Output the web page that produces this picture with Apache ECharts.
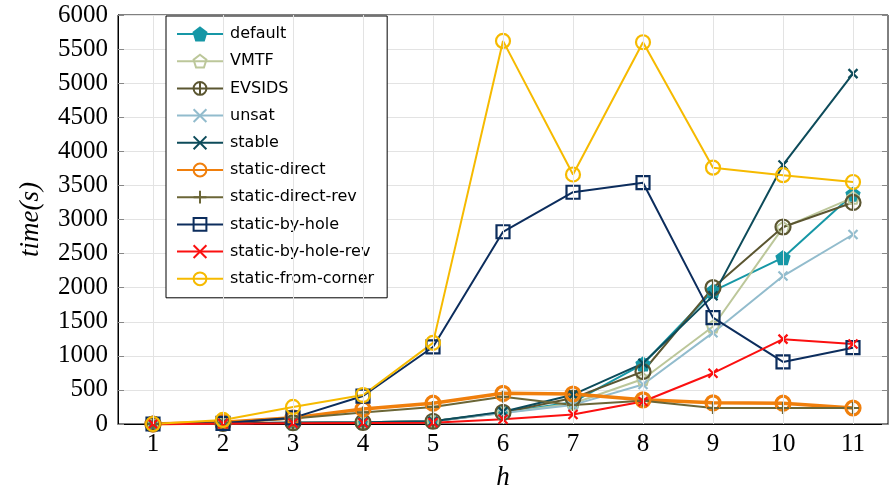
<!DOCTYPE html>
<html>
<head>
<meta charset="utf-8">
<script src="https://cdn.jsdelivr.net/npm/echarts@6/dist/echarts.min.js"></script>
<style>html,body{margin:0;padding:0;background:#fff;}#c{width:889px;height:496px;}</style>
</head>
<body>
<div id="c"></div>
<script>
const hValues = [1, 2, 3, 4, 5, 6, 7, 8, 9, 10, 11];
const yTicks = [0, 500, 1000, 1500, 2000, 2500, 3000, 3500, 4000, 4500, 5000, 5500, 6000];

const seriesNames = ['default', 'VMTF', 'EVSIDS', 'unsat', 'stable', 'static-direct', 'static-direct-rev', 'static-by-hole', 'static-by-hole-rev', 'static-from-corner'];

const defaultTimes          = [0, 10, 20, 25, 40, 170, 320, 880, 1950, 2440, 3370];
const vmtfTimes             = [0, 10, 20, 25, 40, 160, 300, 660, 1430, 2880, 3320];
const evsidsTimes           = [0, 10, 20, 25, 40, 170, 380, 770, 2000, 2890, 3250];
const unsatTimes            = [0, 10, 20, 25, 40, 160, 280, 580, 1340, 2170, 2780];
const stableTimes           = [0, 10, 20, 25, 40, 180, 430, 890, 1880, 3800, 5140];
const staticDirectTimes     = [0, 25, 90, 220, 305, 450, 440, 355, 310, 305, 235];
const staticDirectRevTimes  = [0, 20, 80, 170, 250, 400, 280, 340, 235, 235, 235];
const staticByHoleTimes     = [0, 10, 90, 410, 1130, 2820, 3400, 3540, 1560, 910, 1120];
const staticByHoleRevTimes  = [0, 5, 10, 15, 20, 70, 140, 330, 745, 1245, 1175];
const staticFromCornerTimes = [0, 60, 250, 425, 1190, 5620, 3660, 5600, 3760, 3650, 3550];

const PENT = 'path://M5,0L9.755,3.455L7.939,9.045L2.061,9.045L0.245,3.455Z';
const CROSS = 'path://M0,0L10,10M10,0L0,10';
const PLUS = 'path://M5,0L5,10M0,5L10,5';
const OPLUS = 'path://M0,5A5,5 0 1,1 10,5A5,5 0 1,1 0,5ZM5,0L5,10';
const SQUARE = 'path://M0,0L10,0L10,10L0,10Z';

function mk(name, data, color, symbol, size, opts) {
  opts = opts || {};
  return {
    name: name,
    type: 'line',
    data: data.map((v, i) => [hValues[i], v]),
    symbol: symbol,
    symbolSize: size,
    showSymbol: true,
    animation: false,
    lineStyle: { color: color, width: opts.lw || 2 },
    itemStyle: {
      color: opts.fill ? color : 'rgba(255,255,255,0)',
      borderColor: color,
      borderWidth: opts.bw || 2
    },
    emphasis: { disabled: true },
    z: 3
  };
}

const series = [
  {
    name: '__grid', type: 'line', data: [], silent: true, z: 1, animation: false,
    markLine: {
      silent: true, symbol: 'none', label: { show: false }, animation: false,
      lineStyle: { color: '#e3e3e3', width: 1, type: 'solid' },
      data: hValues.map(v => ({ xAxis: v }))
    }
  },
  mk('default', defaultTimes, '#1697a6', PENT, 13, { fill: true }),
  mk('VMTF', vmtfTimes, '#bcc79a', PENT, 12, {}),
  mk('EVSIDS', evsidsTimes, '#5b5631', OPLUS, 15, { bw: 2.2 }),
  mk('unsat', unsatTimes, '#92bccd', CROSS, 9, { bw: 2.2 }),
  mk('stable', stableTimes, '#0d4b5a', CROSS, 9, { bw: 2.2 }),
  mk('static-direct', staticDirectTimes, '#f07f0c', 'circle', 14, { lw: 3.5, bw: 3.2 }),
  mk('static-direct-rev', staticDirectRevTimes, '#6b6637', PLUS, 12, { bw: 2.2 }),
  mk('static-by-hole', staticByHoleTimes, '#0c2d5d', SQUARE, 13, { bw: 2.2 }),
  mk('static-by-hole-rev', staticByHoleRevTimes, '#fb1010', CROSS, 9, { bw: 2.2 }),
  mk('static-from-corner', staticFromCornerTimes, '#f6ba00', 'circle', 14, { bw: 2.2 })
];

const serif = '"Liberation Serif", "DejaVu Serif", serif';

const option = {
  animation: false,
  backgroundColor: '#fff',
  grid: { left: 118, right: 1, top: 15, bottom: 72, show: true, borderColor: '#000', borderWidth: 1, backgroundColor: 'transparent' },
  legend: {
    data: seriesNames,
    orient: 'vertical',
    left: 166, top: 16,
    backgroundColor: '#fff',
    borderColor: '#000', borderWidth: 1,
    padding: [10, 13, 11, 10],
    itemWidth: 46, itemHeight: 16, itemGap: 11.2,
    textStyle: { fontFamily: '"DejaVu Sans", sans-serif', fontSize: 16, lineHeight: 16, color: '#000', padding: [0, 0, 0, 2] },
    selectedMode: false
  },
  xAxis: {
    type: 'value', min: 0.5, max: 11.5,
    name: 'h', nameLocation: 'middle', nameGap: 40,
    nameTextStyle: { fontFamily: serif, fontStyle: 'italic', fontSize: 27, color: '#000' },
    axisLine: { show: true, lineStyle: { color: '#000' } },
    axisTick: { show: true, inside: true, length: 5, customValues: hValues, lineStyle: { color: '#888' } },
    axisLabel: { customValues: hValues, fontFamily: serif, fontSize: 25, color: '#000', margin: 8 },
    splitLine: { show: false }
  },
  yAxis: [{
    type: 'value', min: 0, max: 6000, interval: 500,
    name: 'time(s)', nameLocation: 'middle', nameGap: 74, nameRotate: 90,
    nameTextStyle: { fontFamily: serif, fontStyle: 'italic', fontSize: 27, color: '#000' },
    axisLine: { show: true, lineStyle: { color: '#000' } },
    axisTick: { show: true, inside: true, length: 6, lineStyle: { color: '#888' } },
    axisLabel: { fontFamily: serif, fontSize: 25, color: '#000', margin: 10,
      formatter: v => String(v) },
    splitLine: { show: true, lineStyle: { color: '#e3e3e3', width: 1 } }
  }, {
    type: 'value', min: 0, max: 6000, interval: 500, position: 'right',
    axisLine: { show: false },
    axisTick: { show: true, inside: true, length: 6, lineStyle: { color: '#888' } },
    axisLabel: { show: false },
    splitLine: { show: false }
  }],
  series: series
};

const chart = echarts.init(document.getElementById('c'), null, { renderer: 'canvas' });
chart.setOption(option);
</script>
</body>
</html>
